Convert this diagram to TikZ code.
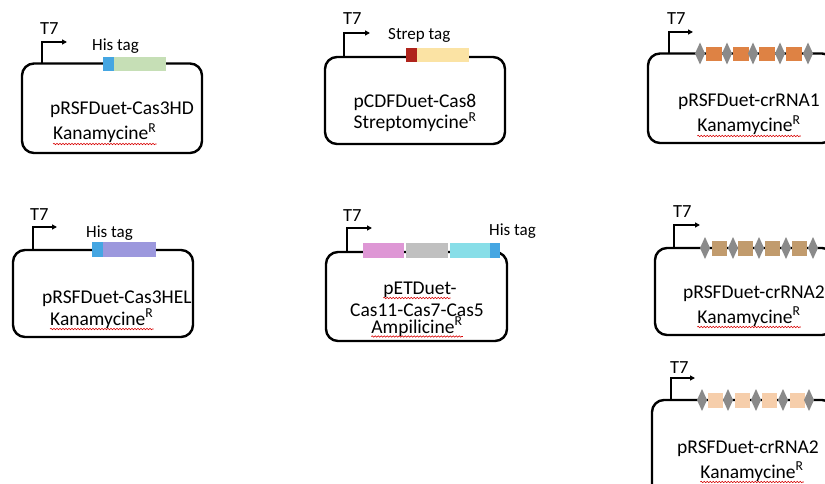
\documentclass[tikz,border=0pt]{standalone}
\usepackage{fontspec}
\setmainfont{Carlito}
\usetikzlibrary{arrows.meta,decorations.pathmorphing}
\definecolor{cblue}{HTML}{45A6E2}
\definecolor{cgreen}{HTML}{C6DFB6}
\definecolor{cpurple}{HTML}{9C98DD}
\definecolor{cred}{HTML}{B0241C}
\definecolor{cyellow}{HTML}{FBE3A4}
\definecolor{corange}{HTML}{DE8244}
\definecolor{ctan}{HTML}{C19B6D}
\definecolor{cpeach}{HTML}{F6CEAB}
\definecolor{cpink}{HTML}{DE97D5}
\definecolor{cgrayblk}{HTML}{C0C0C0}
\definecolor{ccyan}{HTML}{88DEE8}
\definecolor{cdiamond}{HTML}{8A8A8A}
\begin{document}
\begin{tikzpicture}[x=1pt,y=-1pt,
  plasmid/.style={draw=black, line width=2.4pt, rounded corners=12pt},
  promoter/.style={line width=1.4pt, -{Triangle[length=5pt,width=5pt]}},
  maintext/.style={font=\fontsize{19.5}{22}\selectfont, inner sep=0pt},
  taglabel/.style={font=\fontsize{17}{20}\selectfont, inner sep=0pt},
  tseven/.style={font=\fontsize{18.5}{22}\selectfont, inner sep=0pt, anchor=base west},
  spell/.style={draw=red!85!black, line width=0.6pt, decorate,
    decoration={snake, amplitude=0.7pt, segment length=3pt}},
  rep/.style={fill=cdiamond}
]
\useasboundingbox (0,0) rectangle (825,484);
\fill[white] (0,0) rectangle (825,484);

% ---- Box 1: pRSFDuet-Cas3HD
\draw[plasmid] (22,63.5) rectangle (202,153);
\coordinate (p1) at (42,63.5); \coordinate (p1t) at (67,42);
\draw[promoter] (p1) |- (p1t);
\node[tseven] (t71) at (40,35) {T7};
\node[taglabel, anchor=base west] (h1) at (92,51) {His tag};
\fill[cblue] (103,57) rectangle (114,71);
\fill[cgreen] (114,57) rectangle (166,71);
\node[maintext, anchor=base west] (n1) at (50,115) {pRSFDuet-Cas3HD};
\node[maintext, anchor=base west] (k1) at (53,140) {Kanamycine\textsuperscript{R}};
\draw[spell] ([yshift=-4pt]k1.base west) -- ([yshift=-4pt]k1.base east);

% ---- Box 2: pCDFDuet-Cas8
\draw[plasmid] (325,57) rectangle (505,144);
\coordinate (p2) at (344,57); \coordinate (p2t) at (370,33);
\draw[promoter] (p2) |- (p2t);
\node[tseven] (t72) at (343,25) {T7};
\node[taglabel, anchor=base west] (h2) at (388,40) {Strep tag};
\fill[cred] (406,48) rectangle (417,62);
\fill[cyellow] (417,48) rectangle (469,62);
\node[maintext, anchor=base] (n2) at (415,108) {pCDFDuet-Cas8};
\node[maintext, anchor=base] (k2) at (415,129) {Streptomycine\textsuperscript{R}};

% ---- Box 3: pRSFDuet-crRNA1
\draw[plasmid] (648,53.5) rectangle (834,143);
\coordinate (p3) at (669,53.5); \coordinate (p3t) at (693,32);
\draw[promoter] (p3) |- (p3t);
\node[tseven] (t73) at (667,25) {T7};
\foreach \a in {706,733,759,786}{\fill[corange] (\a,47.5) rectangle ++(16,14);}
\foreach \d in {700,727,753,780,808}{\fill[rep] (\d,42.5) -- (\d+5,53.5) -- (\d,64.5) -- (\d-5,53.5) -- cycle;}
\node[maintext, anchor=base] (n3) at (749,107) {pRSFDuet-crRNA1};
\node[maintext, anchor=base] (k3) at (749,132) {Kanamycine\textsuperscript{R}};
\draw[spell] ([yshift=-4pt]k3.base west) -- ([yshift=-4pt]k3.base east);

% ---- Box 4: pRSFDuet-Cas3HEL
\draw[plasmid] (13,250) rectangle (193,337);
\coordinate (p4) at (33,250); \coordinate (p4t) at (57,227);
\draw[promoter] (p4) |- (p4t);
\node[tseven] (t74) at (30,220) {T7};
\node[taglabel, anchor=base west] (h4) at (86,237) {His tag};
\fill[cblue] (92,242) rectangle (103,257);
\fill[cpurple] (103,242) rectangle (156,257);
\node[maintext, anchor=base west] (n4) at (42,303) {pRSFDuet-Cas3HEL};
\node[maintext, anchor=base west] (k4) at (50,325) {Kanamycine\textsuperscript{R}};
\draw[spell] ([yshift=-4pt]k4.base west) -- ([yshift=-4pt]k4.base east);

% ---- Box 5: pETDuet-Cas11-Cas7-Cas5
\draw[plasmid] (326,252) rectangle (507,341);
\coordinate (p5) at (347,252); \coordinate (p5t) at (372,228);
\draw[promoter] (p5) |- (p5t);
\node[tseven] (t75) at (343,222) {T7};
\fill[cpink] (363,243) rectangle (404,258);
\fill[cgrayblk] (406,243) rectangle (448,258);
\fill[ccyan] (450,243) rectangle (490,258);
\fill[cblue] (490,243) rectangle (500,258);
\node[taglabel, anchor=base west] (h5) at (489,235) {His tag};
\node[maintext, anchor=base] (n5a) at (420,294) {pETDuet-};
\node[maintext, anchor=base] (n5b) at (417,316) {Cas11-Cas7-Cas5};
\node[maintext, anchor=base] (k5) at (417,333.5) {Ampilicine\textsuperscript{R}};
\draw[spell] ([yshift=-4pt]n5a.base west) -- ([xshift=-6pt,yshift=-4pt]n5a.base east);
\draw[spell] ([yshift=-3pt]k5.base west) -- ([yshift=-3pt]k5.base east);

% ---- Box 6: pRSFDuet-crRNA2 (tan)
\draw[plasmid] (655,248) rectangle (834,335);
\coordinate (p6) at (674,248); \coordinate (p6t) at (700,225);
\draw[promoter] (p6) |- (p6t);
\node[tseven] (t76) at (673,218) {T7};
\foreach \a in {712,738,765,792}{\fill[ctan] (\a,240.5) rectangle ++(15,15);}
\foreach \d in {705,733,759,786,813}{\fill[rep] (\d,237) -- (\d+5,248) -- (\d,259) -- (\d-5,248) -- cycle;}
\node[maintext, anchor=base] (n6) at (754,298) {pRSFDuet-crRNA2};
\node[maintext, anchor=base] (k6) at (749,323) {Kanamycine\textsuperscript{R}};
\draw[spell] ([yshift=-4pt]k6.base west) -- ([yshift=-4pt]k6.base east);

% ---- Box 7: pRSFDuet-crRNA2 (peach)
\draw[plasmid] (652,400) rectangle (834,500);
\coordinate (p7) at (671,400); \coordinate (p7t) at (695,378);
\draw[promoter] (p7) |- (p7t);
\node[tseven] (t77) at (670,373) {T7};
\foreach \a in {708,735,762,790}{\fill[cpeach] (\a,393) rectangle ++(15,14.5);}
\foreach \d in {702,728,756,783,809}{\fill[rep] (\d,389) -- (\d+5,400) -- (\d,411) -- (\d-5,400) -- cycle;}
\node[maintext, anchor=base] (n7) at (748,453) {pRSFDuet-crRNA2};
\node[maintext, anchor=base] (k7) at (752,478) {Kanamycine\textsuperscript{R}};
\draw[spell] ([yshift=-4pt]k7.base west) -- ([yshift=-4pt]k7.base east);
\end{tikzpicture}
\end{document}
